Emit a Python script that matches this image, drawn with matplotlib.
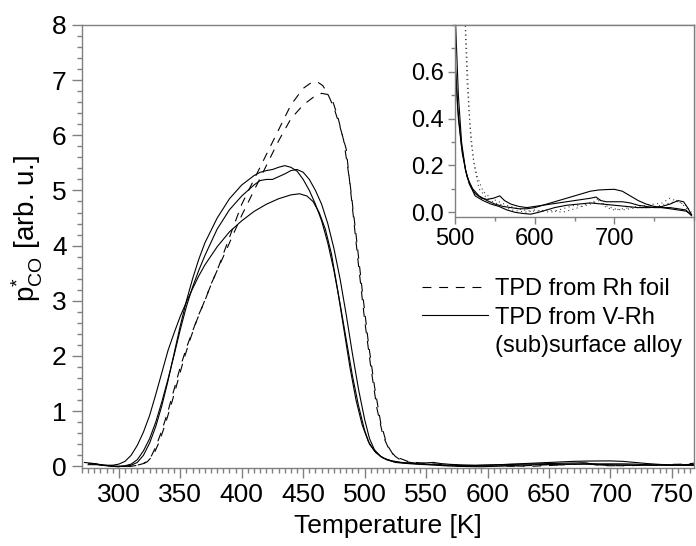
import matplotlib
matplotlib.use("Agg")
import matplotlib.pyplot as plt
from matplotlib.ticker import MultipleLocator, FormatStrFormatter
from matplotlib.lines import Line2D

# TPD from Rh foil (two runs)
foil1_T = [275, 285, 295, 305, 315, 320, 325, 330, 335, 340, 345, 350, 355, 360, 365,
           370, 375, 380, 390, 400, 410, 420, 430, 440, 450, 455, 458, 462, 466, 470,
           475, 480, 485, 490, 495, 500, 505, 510, 515, 520, 525, 530, 540, 550, 560,
           570, 580, 590, 600, 610, 620, 630, 640, 650, 660, 670, 680, 690, 700, 710,
           720, 730, 740, 750, 760, 770, 780, 790, 797]
foil1_p = [0.05, 0.03, 0.0, 0.0, 0.02, 0.05, 0.12, 0.35, 0.65, 1.0, 1.4, 1.8, 2.15, 2.45, 2.75,
           3.0, 3.3, 3.55, 4.15, 4.75, 5.2, 5.65, 6.1, 6.55, 6.85, 6.93, 6.97, 6.96, 6.9, 6.75,
           6.5, 6.15, 5.75, 4.7, 3.65, 2.65, 1.8, 1.05, 0.55, 0.3, 0.18, 0.1, 0.06, 0.04, 0.03,
           0.01, 0.005, 0.0, 0.01, 0.005, 0.0, 0.01, 0.02, 0.03, 0.025, 0.035, 0.05, 0.02, 0.01, 0.015,
           0.02, 0.025, 0.03, 0.035, 0.04, 0.06, 0.045, 0.03, 0.0]

foil2_T = [280, 290, 300, 310, 318, 323, 328, 333, 338, 343, 348, 353, 358, 363, 368,
           373, 378, 385, 390, 400, 410, 420, 430, 440, 450, 460, 465, 470, 474, 478,
           483, 488, 493, 498, 503, 508, 513, 518, 523, 528, 535, 545, 555, 565, 575,
           585, 595, 605, 615, 625, 635, 645, 655, 665, 675, 680, 688, 700, 710, 720,
           730, 740, 750, 760, 770, 780, 790, 797]
foil2_p = [0.04, 0.01, -0.01, 0.0, 0.03, 0.08, 0.2, 0.45, 0.78, 1.15, 1.55, 1.95, 2.3, 2.62, 2.9,
           3.18, 3.45, 3.8, 4.05, 4.55, 5.0, 5.45, 5.9, 6.3, 6.55, 6.72, 6.76, 6.74, 6.62, 6.35,
           5.9, 5.15, 4.2, 3.2, 2.25, 1.45, 0.8, 0.4, 0.22, 0.15, 0.09, 0.06, 0.045, 0.03, 0.02,
           0.01, 0.005, 0.005, 0.01, 0.005, 0.0, 0.01, 0.02, 0.035, 0.045, 0.06, 0.03, 0.015, 0.01, 0.015,
           0.02, 0.02, 0.025, 0.03, 0.04, 0.05, 0.02, -0.01]

# TPD from V-Rh (sub)surface alloy (three runs)
alloy1_T = [272, 280, 288, 295, 300, 305, 310, 315, 320, 325, 330, 335, 340, 345, 350,
            355, 360, 365, 370, 380, 390, 400, 410, 420, 430, 440, 447, 453, 458, 463,
            468, 473, 478, 483, 488, 493, 498, 503, 508, 513, 518, 525, 533, 540, 548,
            556, 562, 570, 580, 590, 600, 610, 620, 630, 640, 650, 660, 670, 680, 690,
            700, 710, 720, 730, 740, 750, 760, 770, 780, 790, 797]
alloy1_p = [0.07, 0.05, 0.02, 0.02, 0.04, 0.09, 0.2, 0.38, 0.62, 0.92, 1.3, 1.7, 2.1, 2.42, 2.72,
            2.98, 3.22, 3.45, 3.65, 3.98, 4.25, 4.45, 4.62, 4.75, 4.85, 4.92, 4.94, 4.9, 4.8, 4.6,
            4.3, 3.85, 3.2, 2.5, 1.8, 1.2, 0.75, 0.45, 0.28, 0.18, 0.12, 0.08, 0.06, 0.055, 0.06,
            0.07, 0.05, 0.035, 0.025, 0.02, 0.025, 0.03, 0.04, 0.05, 0.06, 0.07, 0.08, 0.09, 0.095, 0.097,
            0.098, 0.09, 0.07, 0.05, 0.035, 0.025, 0.02, 0.015, 0.01, 0.005, -0.01]

alloy2_T = [275, 282, 290, 298, 305, 310, 315, 320, 325, 330, 335, 340, 345, 350, 355,
            360, 365, 370, 380, 390, 400, 410, 415, 420, 425, 430, 435, 440, 445, 450,
            455, 460, 465, 470, 475, 480, 485, 490, 495, 500, 504, 509, 515, 522, 530,
            540, 550, 560, 570, 580, 590, 600, 610, 620, 630, 640, 650, 660, 670, 677,
            683, 690, 700, 710, 720, 730, 740, 750, 760, 770, 780, 790, 797]
alloy2_p = [0.03, 0.03, 0.01, 0.0, 0.0, 0.02, 0.07, 0.2, 0.42, 0.72, 1.1, 1.55, 2.05, 2.55, 3.0,
            3.4, 3.75, 4.05, 4.5, 4.85, 5.1, 5.27, 5.33, 5.36, 5.38, 5.42, 5.45, 5.42, 5.35, 5.2,
            5.0, 4.75, 4.45, 4.05, 3.55, 2.95, 2.3, 1.65, 1.1, 0.65, 0.4, 0.25, 0.15, 0.1, 0.07,
            0.05, 0.035, 0.025, 0.02, 0.015, 0.015, 0.02, 0.03, 0.035, 0.04, 0.045, 0.05, 0.055, 0.06, 0.065,
            0.05, 0.045, 0.045, 0.045, 0.04, 0.03, 0.025, 0.02, 0.02, 0.02, 0.015, 0.01, -0.015]

alloy3_T = [278, 285, 292, 300, 305, 310, 315, 320, 325, 330, 335, 340, 345, 350, 355,
            360, 365, 370, 380, 390, 400, 410, 415, 420, 425, 430, 435, 440, 445, 450,
            455, 460, 465, 470, 475, 480, 485, 490, 495, 500, 504, 508, 513, 518, 525,
            535, 545, 555, 565, 575, 585, 595, 605, 615, 625, 640, 655, 670, 685, 700,
            715, 730, 745, 760, 770, 780, 787, 792, 797]
alloy3_p = [0.05, 0.03, 0.01, 0.0, 0.01, 0.04, 0.12, 0.28, 0.5, 0.8, 1.17, 1.58, 2.02, 2.48, 2.9,
            3.25, 3.55, 3.82, 4.3, 4.65, 4.9, 5.1, 5.18, 5.2, 5.2, 5.25, 5.3, 5.36, 5.38, 5.33,
            5.2, 5.0, 4.75, 4.4, 3.95, 3.4, 2.75, 2.05, 1.4, 0.85, 0.5, 0.3, 0.18, 0.12, 0.07,
            0.05, 0.035, 0.025, 0.01, 0.0, -0.005, -0.008, 0.0, 0.01, 0.02, 0.03, 0.035, 0.04, 0.035, 0.03,
            0.025, 0.02, 0.02, 0.025, 0.035, 0.05, 0.045, 0.02, -0.01]

foil_runs = [(foil1_T, foil1_p), (foil2_T, foil2_p)]
alloy_runs = [(alloy1_T, alloy1_p), (alloy2_T, alloy2_p), (alloy3_T, alloy3_p)]

plt.rcParams['font.family'] = ['Liberation Sans', 'DejaVu Sans']
plt.rcParams['mathtext.fontset'] = 'custom'
plt.rcParams['mathtext.rm'] = 'Liberation Sans'
plt.rcParams['mathtext.it'] = 'Liberation Sans:italic'
plt.rcParams['mathtext.default'] = 'regular'

grey = '#808080'
dash = (0, (8, 7))


def style_axes(a, size, major_len, minor_len, pad):
    for s in a.spines.values():
        s.set_color(grey)
        s.set_linewidth(1.0)
    a.tick_params(which='both', direction='out', color=grey, width=1.0,
                  top=False, right=False, labelsize=size, pad=pad)
    a.tick_params(which='major', length=major_len)
    a.tick_params(which='minor', length=minor_len)


fig = plt.figure(figsize=(6.96, 5.46), dpi=100)
ax = fig.add_axes([0.1178, 0.1429, 0.8793, 0.8114])

for T, p in foil_runs:
    ax.plot(T, p, color='black', lw=0.8, ls=dash)
for T, p in alloy_runs:
    ax.plot(T, p, color='black', lw=0.8)

ax.set_xlim(270, 768)
ax.set_ylim(-0.03, 8)
ax.xaxis.set_major_locator(MultipleLocator(50))
ax.xaxis.set_minor_locator(MultipleLocator(5))
ax.yaxis.set_major_locator(MultipleLocator(1))
ax.yaxis.set_minor_locator(MultipleLocator(0.2))
style_axes(ax, 19, 7, 3.5, 4)
ax.set_xlabel('Temperature [K]', fontsize=19, labelpad=5)
ax.set_ylabel(r'p$^{*}_{\mathrm{CO}}$ [arb. u.]', fontsize=20)
ax.yaxis.set_label_coords(-0.06, 0.54)

handles = [Line2D([], [], color='black', lw=0.8, ls=dash),
           Line2D([], [], color='black', lw=0.8),
           Line2D([], [], color='none')]
labels = ['TPD from Rh foil', 'TPD from V-Rh', '(sub)surface alloy']
ax.legend(handles, labels, loc='upper left', bbox_to_anchor=(0.556, 0.428),
          frameon=False, fontsize=17, handlelength=2.8, handletextpad=0.3,
          labelspacing=0.26, borderpad=0, borderaxespad=0)

# inset: high-temperature tail
ins = fig.add_axes([0.654, 0.6026, 0.343, 0.352])
for T, p in foil_runs:
    ins.plot(T, p, color='#444444', lw=0.8, ls=(0, (1, 3)))
for T, p in alloy_runs:
    ins.plot(T, p, color='black', lw=0.8)
ins.set_xlim(500, 800)
ins.set_ylim(-0.02, 0.8)
ins.xaxis.set_minor_locator(MultipleLocator(50))
ins.set_xticks([500, 600, 700])
ins.yaxis.set_minor_locator(MultipleLocator(0.1))
ins.set_yticks([0.0, 0.2, 0.4, 0.6])
ins.yaxis.set_major_formatter(FormatStrFormatter('%.1f'))
style_axes(ins, 17, 5, 3, 3)

fig.savefig('out.png', dpi=100)
